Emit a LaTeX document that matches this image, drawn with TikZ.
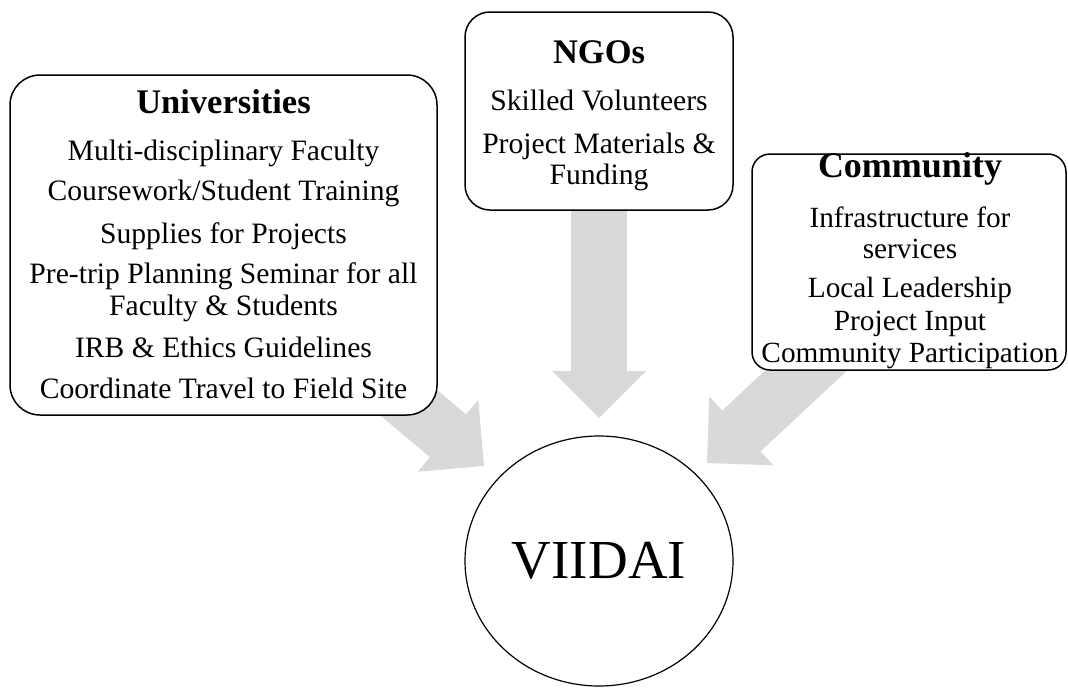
\documentclass[tikz,border=0pt]{standalone}
\usepackage{fontspec}
\setmainfont{Liberation Serif}
\usetikzlibrary{arrows.meta,shapes.geometric}
\definecolor{arrowgray}{HTML}{D9D9D9}
\begin{document}
\begin{tikzpicture}[x=1pt,y=-1pt,
  panel/.style={draw=black, line width=1.5pt, fill=white, inner sep=0pt},
  heading/.style={anchor=base, inner sep=0pt, font=\fontsize{34.5}{36}\selectfont\bfseries},
  item/.style={anchor=base, inner sep=0pt, font=\fontsize{29.6}{31}\selectfont},
  bigarrow/.style={draw=arrowgray, line width=56pt,
    -{Triangle[length=47pt,width=94pt,line width=0pt]}},
  hub/.style={draw=black, line width=1.2pt, fill=white, ellipse, inner sep=0pt,
    minimum width=268pt, minimum height=250pt, font=\fontsize{55}{60}\selectfont}]

% canvas
\fill[white] (0,0) rectangle (1068,688);
\useasboundingbox (0,0) rectangle (1068,688);

% arrow end points (tails sit under the panels)
\coordinate (uniTail) at (346,350);
\coordinate (uniTip)  at (484,466);
\coordinate (ngoTail) at (599,190);
\coordinate (ngoTip)  at (599,418);
\coordinate (comTail) at (838.6,340.2);
\coordinate (comTip)  at (707,463);

% block arrows
\draw[bigarrow] (uniTail) -- (uniTip);
\draw[bigarrow] (ngoTail) -- (ngoTip);
\draw[bigarrow] (comTail) -- (comTip);

% panels
\node[panel, rounded corners=30pt, minimum width=427pt, minimum height=340pt] (uni) at (223.5,245) {};
\node[panel, rounded corners=25pt, minimum width=268pt, minimum height=198pt] (ngo) at (599,111) {};
\node[panel, rounded corners=18pt, minimum width=314pt, minimum height=216pt] (com) at (909,262) {};

% centre
\node[hub] (viidai) at (599,561) {VIIDAI};

% Universities
\node[heading] (uniHead) at (223.5,113) {Universities};
\node[item] (u1)  at (223.5,160) {Multi-disciplinary Faculty};
\node[item] (u2)  at (223.5,200) {Coursework/Student Training};
\node[item] (u3)  at (223.5,243) {Supplies for Projects};
\node[item] (u4a) at (223.5,283) {Pre-trip Planning Seminar for all};
\node[item] (u4b) at (223.5,315) {Faculty \& Students};
\node[item] (u5)  at (223.5,357) {IRB \& Ethics Guidelines};
\node[item] (u6)  at (223.5,398) {Coordinate Travel to Field Site};

% NGOs
\node[heading] (ngoHead) at (599,63) {NGOs};
\node[item] (n1)  at (599,110) {Skilled Volunteers};
\node[item] (n2a) at (599,153) {Project Materials \&};
\node[item] (n2b) at (599,184) {Funding};

% Community
\node[heading, font=\fontsize{36}{38}\selectfont\bfseries] (comHead) at (910,177) {Community};
\node[item, font=\fontsize{29.3}{31}\selectfont] (c1a) at (910,227) {Infrastructure for};
\node[item, font=\fontsize{29.3}{31}\selectfont] (c1b) at (910,258) {services};
\node[item, font=\fontsize{29.3}{31}\selectfont] (c2)  at (910,297) {Local Leadership};
\node[item, font=\fontsize{29.3}{31}\selectfont] (c3)  at (910,330) {Project Input};
\node[item, font=\fontsize{29.3}{31}\selectfont] (c4)  at (910,362) {Community Participation};

\end{tikzpicture}
\end{document}
